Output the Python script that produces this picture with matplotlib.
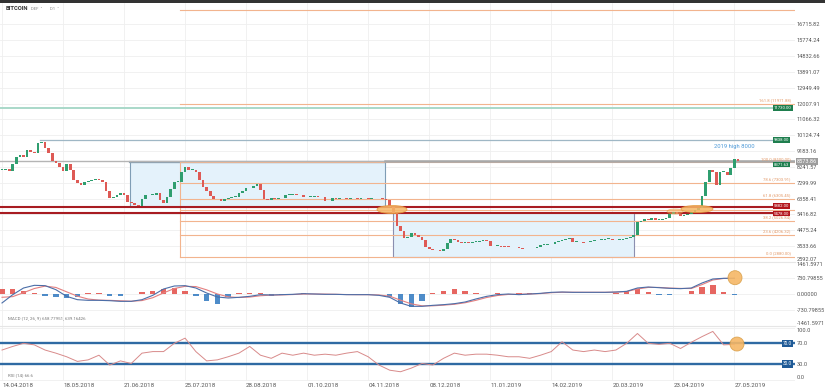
import numpy as np
import matplotlib
matplotlib.use("Agg")
import matplotlib.pyplot as plt
from matplotlib.patches import Rectangle, Ellipse

plt.rcParams['font.family'] = ['Roboto', 'DejaVu Sans']

# daily chart, one candle per 2 days starting 14.04.2018 (close values)
closes = [8053, 8142, 7994, 8410, 8826, 8945, 8856, 9243, 9124, 9064,
          9659, 9689, 9362, 9064, 8559, 8499, 8232, 7994, 8410, 8053,
          7429, 7280, 7191, 7310, 7399, 7458, 7518, 7488, 7339, 6775,
          6388, 6465, 6596, 6667, 6566, 6150, 6091, 5972, 5942, 6358,
          6537, 6566, 6566, 6656, 6269, 6120, 6447, 6923, 7340, 7369,
          7934, 8232, 8053, 8083, 7934, 7458, 7072, 6834, 6507, 6299,
          6328, 6239, 6358, 6406, 6465, 6477, 6685, 6834, 6965, 6983,
          7102, 7250, 6864, 6299, 6269, 6370, 6328, 6406, 6388, 6566,
          6596, 6638, 6537, 6566, 6477, 6465, 6465, 6507, 6477, 6465,
          6180, 6210, 6370, 6347, 6370, 6370, 6347, 6370, 6388, 6347,
          6370, 6388, 6347, 6370, 6406, 6370, 6347, 6269, 5853, 5478,
          4723, 4455, 4009, 4069, 4277, 4188, 4087, 3890, 3492, 3337,
          3325, 3278, 3218, 3355, 3712, 3950, 3908, 3801, 3694, 3789,
          3730, 3789, 3801, 3849, 3890, 3831, 3563, 3533, 3533, 3522,
          3516, 3492, 3486, 3456, 3414, 3397, 3397, 3397, 3432, 3486,
          3593, 3593, 3623, 3682, 3789, 3860, 3890, 3932, 4009, 3789,
          3789, 3754, 3742, 3789, 3843, 3872, 3890, 3890, 3962, 3968,
          3920, 3890, 3920, 3950, 3991, 4051, 4158, 4961, 5050, 5122,
          5080, 5169, 5080, 5080, 5122, 5199, 5407, 5573, 5437, 5318,
          5348, 5419, 5556, 5656, 5793, 6507, 7339, 8024, 7934, 7161,
          7934, 7934, 7756, 8172, 8707, 8574]

# MACD (12, 26, 9), one value per 6 days
macd = [-410, -30, 274, 396, 381, 198, -107, -259, -289, -289,
        -305, -335, -335, -259, -61, 228, 365, 381, 274, 46,
        -137, -183, -152, -107, -30, -46, -30, -15, 15, 0,
        -15, -15, -30, -30, -30, -61, -152, -411, -563, -563,
        -518, -487, -442, -365, -228, -107, -30, 0, -30, 0,
        30, 76, 91, 76, 76, 76, 76, 91, 122, 274,
        320, 289, 259, 244, 274, 503, 685, 716, 716]
signal = [-150, -120, 60, 250, 360, 300, 100, -100, -230, -280,
          -290, -310, -330, -300, -170, 50, 250, 350, 340, 190,
          0, -130, -160, -140, -80, -50, -40, -25, 0, 0,
          -5, -15, -25, -30, -30, -45, -100, -280, -450, -540,
          -540, -510, -470, -400, -290, -160, -70, -20, -10, 0,
          20, 60, 80, 80, 78, 78, 78, 85, 110, 230,
          300, 300, 270, 255, 250, 430, 640, 710, 720]
hist = [250, 250, 150, 30, -80, -150, -180, -120, 40, 60,
        -100, -80, 20, 100, 150, 250, 280, 120, -100, -300,
        -450, -150, 30, 50, 30, -80, -30, 10, 40, 20,
        -20, -20, -10, -10, -10, 0, -150, -450, -600, -300,
        50, 150, 250, 120, 30, 0, 40, 10, 30, 40,
        20, 10, 10, 0, 0, -10, 0, 30, 150, 250,
        80, -40, -40, -20, 150, 300, 400, 100, -30]

# RSI (14), one value per 6 days
rsi = [57, 64, 70, 67, 57, 51, 44, 35, 38, 47,
       28, 36, 31, 51, 54, 54, 70, 80, 54, 36,
       38, 44, 51, 64, 47, 41, 51, 47, 51, 47,
       49, 47, 51, 54, 44, 28, 18, 15, 22, 31,
       28, 41, 51, 47, 49, 49, 47, 44, 44, 41,
       47, 54, 73, 57, 54, 57, 54, 57, 70, 89,
       70, 68, 70, 60, 72, 83, 93, 67, 68]

date_labels = ['14.04.2018', '18.05.2018', '21.06.2018', '25.07.2018', '28.08.2018',
               '01.10.2018', '04.11.2018', '08.12.2018', '11.01.2019', '14.02.2019',
               '20.03.2019', '23.04.2019', '27.05.2019']
price_ticks = [2592.07, 3533.66, 4475.24, 5416.82, 6358.41, 7299.99, 8241.57, 9183.16,
               10124.74, 11066.32, 12007.91, 12949.49, 13891.07, 14832.66, 15774.24, 16715.82]
macd_ticks = [-1461.5971, -730.79855, 0.0, 730.79855, 1461.5971]
macd_tick_labels = ['-1461.5971', '-730.79855', '0.00000', '730.79855', '1461.5971']
rsi_ticks = [0, 30, 70, 100]

# fibonacci drawn from the july high
fib_prices = [2880, 4206, 5027, 5690, 6353, 7297, 8500, 11973, 17593]
fib_labels = ['0.0 (2880.00)', '23.6 (4206.32)', '38.2 (5026.84)', '', '61.8 (6305.45)',
              '78.6 (7303.91)', '100.0 (8500.00)', '161.8 (11971.88)', '']

last_price = 8573.86
green_levels = [11730.00, 9838.00, 8371.63]
red_levels = [5882.00, 5478.00]

W, H = 825, 392
GREEN, RED = '#2f9e6f', '#de5a55'
ORANGE = '#f2b48e'


def box(x0, y0, x1, y1):
    return [x0 / W, 1 - y1 / H, (x1 - x0) / W, (y1 - y0) / H]


def px_day(x):
    return (x - 2) / 1.795


fig = plt.figure(figsize=(8.25, 3.92), dpi=100)
ax = fig.add_axes(box(0, 3, 795, 262))
axm = fig.add_axes(box(0, 262, 795, 326), sharex=ax)
axr = fig.add_axes(box(0, 326, 795, 381), sharex=ax)

xmin, xmax = px_day(0), px_day(795)
x_end = px_day(773)
for a in (ax, axm, axr):
    for s in a.spines.values():
        s.set_visible(False)
    a.set_xlim(xmin, xmax)
    a.set_xticks(np.arange(len(date_labels)) * 34)
    a.grid(True, color='#efefef', lw=0.6)
    a.set_axisbelow(True)
    a.yaxis.tick_right()
    a.tick_params(length=0, labelsize=4.1, colors='#555555', pad=1.2)
ax.tick_params(labelbottom=False)
axm.tick_params(labelbottom=False)
for a in (axm, axr):
    a.spines['top'].set_visible(True)
    a.spines['top'].set_color('#e6e6e6')

# ---- price panel
ax.set_ylim(2582, 17985)
ax.set_yticks(price_ticks)
ax.set_yticklabels(['%.2f' % p for p in price_ticks])
ax.get_yticklabels()[0].set_va('bottom')

ax.add_patch(Rectangle((px_day(130), red_levels[0]), px_day(385) - px_day(130),
                       8517 - red_levels[0], fc='#e4f2fb', ec='#7f9db5', lw=0.8, zorder=1))
ax.plot([px_day(130), px_day(385)], [8517, 8517], color='#8a9fb0', lw=1.6, zorder=2)
ax.add_patch(Rectangle((px_day(393), fib_prices[0]), px_day(634) - px_day(393),
                       red_levels[1] - fib_prices[0], fc='#e4f2fb', ec='#8b8fb0', lw=0.8, zorder=1))

fx = px_day(180)
for p, lab in zip(fib_prices, fib_labels):
    ax.plot([fx, xmax], [p, p], color=ORANGE, lw=0.8, zorder=2)
    if lab:
        ax.text(px_day(791), p + 90, lab, fontsize=3.1, color='#e39a6a', ha='right', va='bottom', zorder=6)
ax.plot([fx, fx], [fib_prices[0], fib_prices[6]], color=ORANGE, lw=0.8, zorder=2)

ax.plot([xmin, xmax], [last_price, last_price], color='#b5b5b5', lw=1.0, zorder=2)
ax.plot([px_day(385), xmax], [last_price, last_price], color='#a8a8a8', lw=1.8, zorder=2)
ax.plot([xmin, x_end], [green_levels[0]] * 2, color='#a9d8c9', lw=1.4, zorder=2)
ax.plot([px_day(40), x_end], [green_levels[1]] * 2, color='#9fb7c5', lw=0.9, zorder=2)
for p in red_levels:
    ax.plot([xmin, x_end], [p, p], color='#a81c22', lw=1.5, zorder=3)

opens = np.r_[closes[0], closes[:-1]]
cl = np.array(closes)
days = np.arange(len(cl)) * 2
h = cl - opens
h = np.where(np.abs(h) < 40, np.where(h < 0, -40, 40), h)
up = cl >= opens
ax.bar(days[up], h[up], bottom=opens[up], width=1.5, color=GREEN, zorder=4)
ax.bar(days[~up], h[~up], bottom=opens[~up], width=1.5, color=RED, zorder=4)

for cx, cy, w, hh, al in [(392, 5704, 30, 480, 0.85), (697, 5734, 32, 420, 0.85), (675, 5585, 16, 300, 0.5)]:
    ax.add_patch(Ellipse((px_day(cx), cy), w / 1.795, hh, fc='#f6b766', ec='#e59a3c',
                         lw=0.6, alpha=al, zorder=5))

ax.text(px_day(734), 9330, '2019 high 8000', fontsize=4.2, color='#4d9ad8', ha='center', va='bottom')

lab_x = px_day(774)
for p, txt, fc in [(green_levels[0], '11730.00', '#1e7e4e'), (green_levels[1], '9838.00', '#1e7e4e'),
                   (green_levels[2], '8371.63', '#1e7e4e'), (red_levels[0] + 25, '5882.00', '#b3151c'),
                   (red_levels[1] - 25, '5478.00', '#b3151c')]:
    ax.text(lab_x, p, txt, fontsize=3.1, color='white', ha='left', va='center', zorder=7,
            bbox=dict(boxstyle='square,pad=0.18', fc=fc, ec='none'))
ax.text(px_day(797), last_price, '%.2f' % last_price, fontsize=4.1, color='white', ha='left', va='center',
        zorder=7, clip_on=False, bbox=dict(boxstyle='square,pad=0.2', fc='#9c9c9c', ec='none'))

# ---- MACD panel
d6 = np.arange(len(macd)) * 6
hv = np.array(hist)
axm.set_ylim(-1461.5971, 1461.5971)
axm.set_yticks(macd_ticks)
axm.set_yticklabels(macd_tick_labels)
axm.get_yticklabels()[0].set_va('bottom')
axm.get_yticklabels()[-1].set_va('top')
axm.bar(d6, hv, width=3.0, color=np.where(hv >= 0, '#e24b45', '#2f78c0'), alpha=0.85, zorder=2)
axm.plot(d6, signal, color='#e58080', lw=0.8, zorder=3)
axm.plot(d6, macd, color='#4b6ea8', lw=0.8, zorder=3)
axm.add_patch(Ellipse((px_day(735), 745), 14 / 1.795, 14 * 45.7, fc='#f6b766', ec='#d9a04a',
                      lw=0.6, alpha=0.9, zorder=5))
axm.text(px_day(8), -1150, 'MACD (12, 26, 9) 658.77951, 639.16426', fontsize=3.2, color='#777777')

# ---- RSI panel
d6r = np.arange(len(rsi)) * 6
axr.set_ylim(-2.9, 103.5)
axr.set_yticks(rsi_ticks)
axr.set_yticklabels(['%.1f' % v for v in rsi_ticks])
axr.get_yticklabels()[0].set_va('bottom')
axr.get_yticklabels()[-1].set_va('top')
axr.plot(d6r, rsi, color='#d88a8a', lw=0.7, zorder=3)
for v in (70, 30):
    axr.axhline(v, color='#2f6aa3', lw=1.7, zorder=2)
    axr.text(px_day(783), v, '%.1f' % v, fontsize=3.4, color='white', ha='left', va='center', zorder=7,
             bbox=dict(boxstyle='square,pad=0.25', fc='#1f5a96', ec='none'))
axr.add_patch(Ellipse((px_day(737), 68.6), 14 / 1.795, 27, fc='#f6b766', ec='#d9a04a',
                      lw=0.6, alpha=0.9, zorder=5))
axr.text(px_day(8), 6, 'RSI (14) 66.6', fontsize=3.2, color='#777777')

axr.set_xticklabels(date_labels)
axr.tick_params(axis='x', labelsize=4.4, pad=1.5)
for t in axr.get_xticklabels():
    t.set_ha('left')

# header
fig.patches.append(Rectangle((0, 1 - 2.5 / H), 1, 2.5 / H, transform=fig.transFigure,
                             fc='#333333', ec='none'))
fig.text(6 / W, 1 - 9 / H, 'BITCOIN', fontsize=4.2, weight='bold', color='#333333', va='center')
fig.text(31 / W, 1 - 9 / H, 'DEF  \u02c5', fontsize=3, color='#888888', va='center')
fig.text(50 / W, 1 - 9 / H, 'D1  \u02c5', fontsize=3, color='#888888', va='center')

fig.savefig('out.png', dpi=100)
